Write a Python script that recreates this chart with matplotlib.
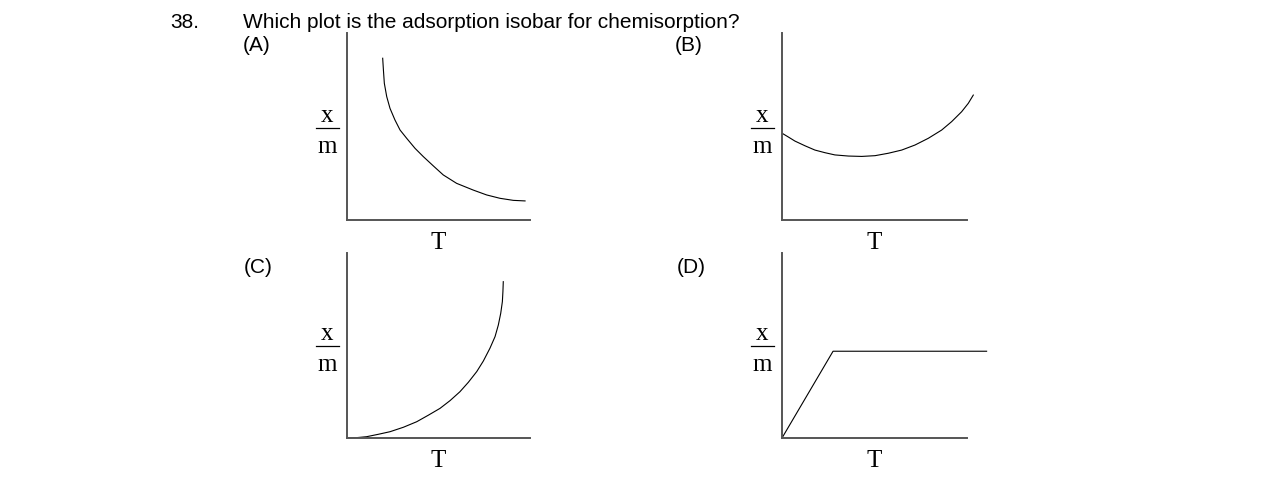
import matplotlib
matplotlib.use("Agg")
import matplotlib.pyplot as plt

W, H = 1275, 498

# curve shapes, in units of axis length (0..1)
a_T = [0.195, 0.199, 0.204, 0.217, 0.235, 0.262, 0.290, 0.326, 0.372,
       0.417, 0.472, 0.526, 0.599, 0.690, 0.763, 0.836, 0.909, 0.973]
a_xm = [0.865, 0.802, 0.731, 0.660, 0.597, 0.535, 0.481, 0.437, 0.383,
        0.339, 0.289, 0.241, 0.196, 0.160, 0.134, 0.116, 0.105, 0.102]

b_T = [0.002, 0.034, 0.070, 0.124, 0.178, 0.232, 0.286, 0.359, 0.431, 0.503,
       0.575, 0.647, 0.719, 0.791, 0.863, 0.917, 0.971, 1.007, 1.034]
b_xm = [0.463, 0.444, 0.422, 0.397, 0.374, 0.360, 0.348, 0.342, 0.340, 0.344,
        0.357, 0.374, 0.401, 0.437, 0.481, 0.526, 0.579, 0.624, 0.668]

c_T = [0.0, 0.053, 0.107, 0.171, 0.235, 0.308, 0.381, 0.444, 0.508, 0.563, 0.617,
       0.663, 0.709, 0.745, 0.781, 0.809, 0.827, 0.840, 0.849, 0.852, 0.854]
c_xm = [0.0, 0.002, 0.007, 0.020, 0.034, 0.058, 0.088, 0.123, 0.160, 0.202, 0.250,
        0.301, 0.359, 0.416, 0.485, 0.548, 0.611, 0.674, 0.737, 0.791, 0.845]

d_T = [0.0, 0.276, 1.106]
d_xm = [0.0, 0.469, 0.469]

panels = ["(A)", "(B)", "(C)", "(D)"]
question = "Which plot is the adsorption isobar for chemisorption?"
qnum = "38."

sans = "Liberation Sans"
serif = "Liberation Serif"

fig = plt.figure(figsize=(W / 100, H / 100), dpi=100)
fig.patch.set_facecolor("white")


def fx(x):
    return x / W


def fy(y):
    return 1 - y / H


# (left, right, bottom, top) of each axis box in pixels
boxes = [(347, 530, 220, 33), (782, 967, 220, 33),
         (347, 530, 438, 253), (782, 967, 438, 253)]
curves = [(a_T, a_xm), (b_T, b_xm), (c_T, c_xm), (d_T, d_xm)]
label_pos = [(243, 51), (675, 51), (244, 273), (677, 273)]

for (l, r, b, t), (xs, ys), name, (lx, ly) in zip(boxes, curves, panels, label_pos):
    ax = fig.add_axes([fx(l), fy(b), (r - l) / W, (b - t) / H])
    ax.set_xlim(0, 1)
    ax.set_ylim(0, 1)
    ax.set_xticks([])
    ax.set_yticks([])
    ax.patch.set_alpha(0)
    for s in ("top", "right"):
        ax.spines[s].set_visible(False)
    for s in ("left", "bottom"):
        ax.spines[s].set_color("#555555")
        ax.spines[s].set_linewidth(1.4)
    ax.plot(xs, ys, color="black", lw=0.8, clip_on=False)

    # x/m label stacked left of the y axis
    cx = l - 19.5
    bar_y = b - 92.3
    fig.add_artist(plt.Line2D([fx(cx - 11.5), fx(cx + 11.5)], [fy(bar_y), fy(bar_y)],
                              color="black", lw=0.9))
    fig.text(fx(cx), fy(bar_y - 6), "x", family=serif, fontsize=18,
             ha="center", va="baseline")
    fig.text(fx(cx), fy(bar_y + 25.7), "m", family=serif, fontsize=18,
             ha="center", va="baseline")
    fig.text(fx((l + r) / 2), fy(b + 28.5), "T", family=serif, fontsize=18,
             ha="center", va="baseline")

    fig.text(fx(lx), fy(ly), name, family=sans, fontsize=15, va="baseline")

fig.text(fx(170), fy(27.5), qnum, family=sans, fontsize=15, va="baseline")
fig.text(fx(243.3), fy(27.5), question, family=sans, fontsize=15, va="baseline")

fig.savefig("out.png", dpi=100)
